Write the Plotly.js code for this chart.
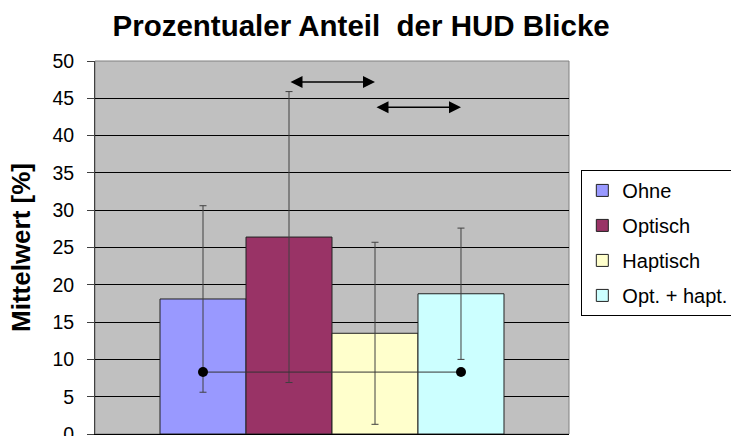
<!DOCTYPE html>
<html>
<head>
<meta charset="utf-8">
<script src="https://cdn.plot.ly/plotly-3.0.1.min.js"></script>
<style>html,body{margin:0;padding:0;background:#fff;}#chart{width:731px;height:436px;}</style>
</head>
<body>
<div id="chart"></div>
<script>
// ---- data ----
const categories = ['Ohne', 'Optisch', 'Haptisch', 'Opt. + hapt.'];
const means = [18.1, 26.4, 13.5, 18.8];
const sds = [12.5, 19.5, 12.2, 8.8];
const colors = ['#9999FF', '#993366', '#FFFFCC', '#CCFFFF'];
const yTicks = [0, 5, 10, 15, 20, 25, 30, 35, 40, 45, 50];
// connected pair (dots + line): [fromIndex, toIndex, y]
const dotLine = [0, 3, 8.3];
// significance arrows: [fromIndex, toIndex, y]
const sigArrows = [[1, 2, 47.2], [2, 3, 43.8]];

const FONT = 'Arial, "Liberation Sans", sans-serif';

const traces = categories.map((c, i) => ({
  type: 'bar',
  name: c,
  x: [i],
  y: [means[i]],
  width: [1],
  legendgroup: 'g' + i,
  marker: {color: colors[i], line: {color: '#222222', width: 1}},
  error_y: {type: 'data', array: [sds[i]], visible: true, color: '#404040', thickness: 1, width: 3.5},
  hoverinfo: 'skip'
}));

traces.push({
  type: 'scatter',
  mode: 'lines+markers',
  x: [dotLine[0], dotLine[1]],
  y: [dotLine[2], dotLine[2]],
  line: {color: '#333333', width: 1},
  marker: {color: '#000000', size: 10},
  showlegend: false,
  hoverinfo: 'skip'
});

const annotations = [];
sigArrows.forEach(a => {
  annotations.push({
    x: a[1], y: a[2], ax: a[0], ay: a[2],
    xref: 'x', yref: 'y', axref: 'x', ayref: 'y',
    text: '', showarrow: true,
    arrowhead: 2, startarrowhead: 2, arrowside: 'end+start',
    arrowwidth: 1.5, arrowsize: 1.6, startarrowsize: 1.6,
    arrowcolor: '#000000', standoff: 0, startstandoff: 0
  });
});

const layout = {
  width: 731, height: 436,
  margin: {l: 95, r: 162, t: 61, b: 2, autoexpand: false},
  paper_bgcolor: '#ffffff',
  plot_bgcolor: '#C0C0C0',
  font: {family: FONT, color: '#000000'},
  title: {
    text: '<b>Prozentualer Anteil  der HUD Blicke</b>',
    font: {family: FONT, size: 29.5, color: '#000000'},
    x: 0.494, xanchor: 'center', y: 0.942, yanchor: 'middle', xref: 'container', yref: 'container'
  },
  barmode: 'overlay',
  xaxis: {
    range: [-1.256, 4.256],
    showticklabels: false, ticks: '', showgrid: false, zeroline: false,
    showline: true, linecolor: '#000000', linewidth: 1
  },
  yaxis: {
    range: [0, 50],
    tickvals: yTicks,
    ticks: 'outside', ticklen: 7, tickcolor: '#404040', tickwidth: 1,
    ticklabelstandoff: 9,
    ticklabeloverflow: 'allow',
    tickfont: {family: FONT, size: 19.5, color: '#000000'},
    showgrid: true, gridcolor: '#000000', gridwidth: 1,
    zeroline: false,
    showline: true, linecolor: '#404040', linewidth: 1,
    title: {text: '<b>Mittelwert [%]</b>', font: {family: FONT, size: 26, color: '#000000'}, standoff: 14}
  },
  legend: {
    x: 1.026, y: 0.708, xanchor: 'left', yanchor: 'top',
    bgcolor: '#ffffff', bordercolor: '#000000', borderwidth: 1,
    font: {family: FONT, size: 20, color: '#000000'},
    traceorder: 'grouped', tracegroupgap: 6
  },
  shapes: [{
    type: 'rect', xref: 'paper', yref: 'paper', x0: 0, x1: 1, y0: 0, y1: 1,
    line: {color: '#808080', width: 1}, layer: 'below'
  }],
  annotations: annotations
};

Plotly.newPlot('chart', traces, layout, {displayModeBar: false, staticPlot: true});
</script>
</body>
</html>
